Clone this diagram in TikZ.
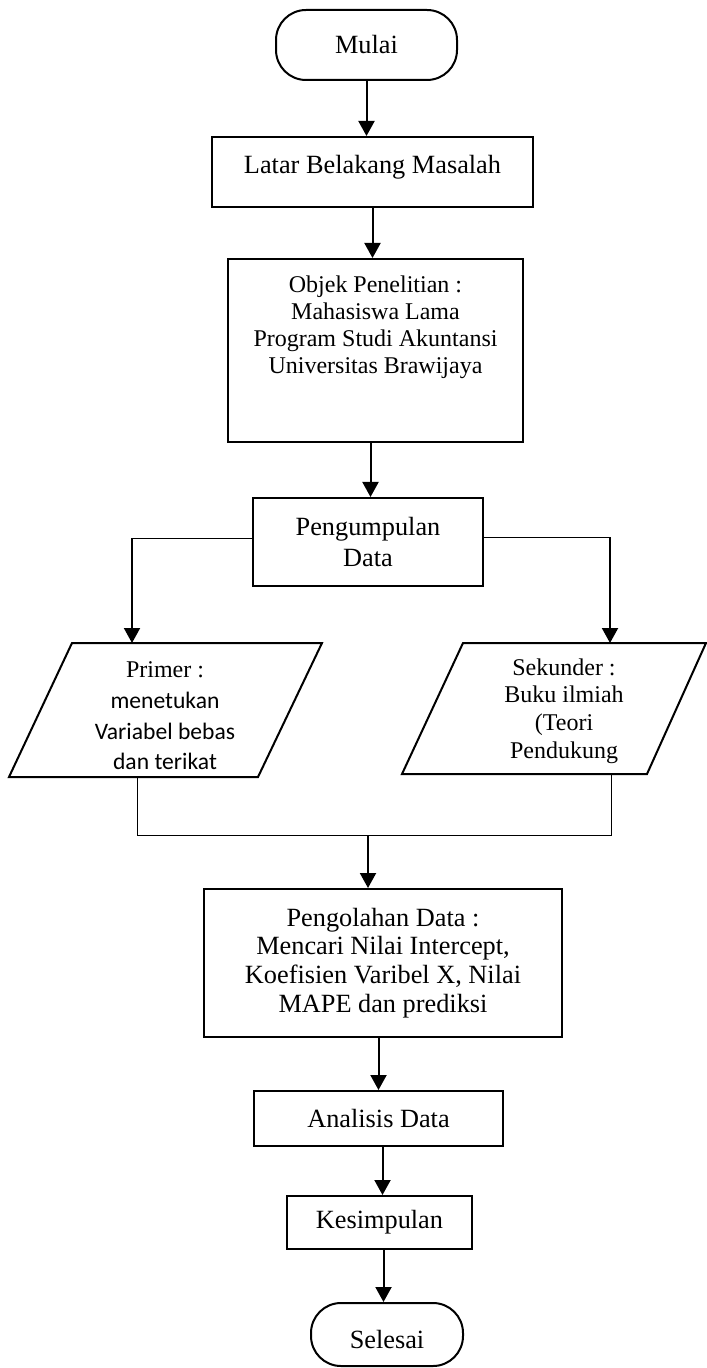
\documentclass[tikz,border=0pt]{standalone}
\usepackage{fontspec}
\setmainfont{Liberation Serif}
\newfontfamily\calibrifont{Carlito}
\usetikzlibrary{arrows.meta,calc}
\begin{document}
\begin{tikzpicture}[x=0.5pt,y=-0.5pt,
  box/.style={draw, line width=1pt, inner sep=0pt, align=center, font=\fontsize{13.15}{15}\selectfont},
  term/.style={box, rounded corners=15pt},
  txt/.style={inner sep=0pt, align=center, font=\fontsize{13.15}{15}\selectfont},
  arr/.style={line width=1pt, -{Triangle[length=7.5pt,width=8pt]}},
  thinln/.style={line width=0.5pt},
  para/.style={line width=1pt, line join=miter}]
\useasboundingbox (0,0) rectangle (706,1368);

% Start
\node[term, minimum width=90.5pt, minimum height=35pt] (mulai) at (366.5,45) {Mulai};

% Latar
\node[box, minimum width=160.5pt, minimum height=35pt] (latar) at (372.5,172) {};
\node[txt] (latarT) at (372.5,167) {Latar Belakang Masalah};

% Objek
\node[box, minimum width=147.5pt, minimum height=91.5pt] (objek) at (375.5,350.5) {};
\node[txt, font=\fontsize{12}{13.5}\selectfont] (objekT) at (375.5,327.5)
  {Objek Penelitian :\\ Mahasiswa Lama\\ Program Studi Akuntansi\\ Universitas Brawijaya};

% Pengumpulan
\node[box, minimum width=115pt, minimum height=44pt, font=\fontsize{13.15}{15.5}\selectfont] (kumpul) at (368,542) {Pengumpulan\\ Data};

% Primer parallelogram
\draw[para] (9,777) -- (72,643) -- (322,643) -- (258,777) -- cycle;
\coordinate (primerTop) at (132,643);
\coordinate (primerBot) at (137,777);
\node[txt, font=\calibrifont\fontsize{11.8}{15.3}\selectfont] (primer) at (165,716)
  {{\rmfamily\fontsize{12}{15.3}\selectfont Primer :}\\ menetukan\\ Variabel bebas\\ dan terikat};

% Sekunder parallelogram
\draw[para] (402,774) -- (463,643) -- (706,643) -- (647,774) -- cycle;
\coordinate (sekTop) at (610,643);
\coordinate (sekBot) at (611,774);
\node[txt, font=\fontsize{12}{13.8}\selectfont] (sekunder) at (564,711)
  {Sekunder :\\ Buku ilmiah\\ (Teori\\ Pendukung};

% Pengolahan
\node[box, minimum width=179pt, minimum height=74pt, font=\fontsize{13.15}{14.35}\selectfont] (olah) at (383,963)
  {Pengolahan Data :\\ Mencari Nilai Intercept,\\ Koefisien Varibel X, Nilai\\ MAPE dan prediksi};

% Analisis
\node[box, minimum width=124.5pt, minimum height=27.5pt] (analisis) at (378.5,1118.5) {Analisis Data};

% Kesimpulan
\node[box, minimum width=92.5pt, minimum height=26.5pt] (kesimpulan) at (379.5,1222.5) {Kesimpulan};

% Selesai
\node[term, minimum width=76pt, minimum height=31.5pt] (selesai) at (387,1334.5) {};
\node[txt] (selesaiT) at (387,1339) {Selesai};

% Connectors
\draw[arr] (mulai.south) -- (mulai.south |- latar.north);
\draw[arr] (latar.south) -- (latar.south |- objek.north);
\coordinate (a3) at ($(objek.south)+(-5,0)$);
\draw[arr] (a3) -- (a3 |- kumpul.north);

\coordinate (bL) at (132,538);
\coordinate (bR) at (610,537);
\draw[thinln] (kumpul.west |- bL) -- (bL);
\draw[arr] (bL) -- (primerTop);
\draw[thinln] (kumpul.east |- bR) -- (bR);
\draw[arr] (bR) -- (sekTop);

\coordinate (jL) at (137,835);
\coordinate (jR) at (611,835);
\coordinate (jM) at (368,835);
\draw[thinln] (primerBot) -- (jL) -- (jR) -- (sekBot);
\draw[arr] (jM) -- (jM |- olah.north);

\draw[arr] (analisis.north |- olah.south) -- (analisis.north);
\coordinate (a7) at ($(analisis.south)+(4,0)$);
\draw[arr] (a7) -- (a7 |- kesimpulan.north);
\coordinate (a8) at ($(kesimpulan.south)+(4,0)$);
\draw[arr] (a8) -- (a8 |- selesai.north);
\end{tikzpicture}
\end{document}
